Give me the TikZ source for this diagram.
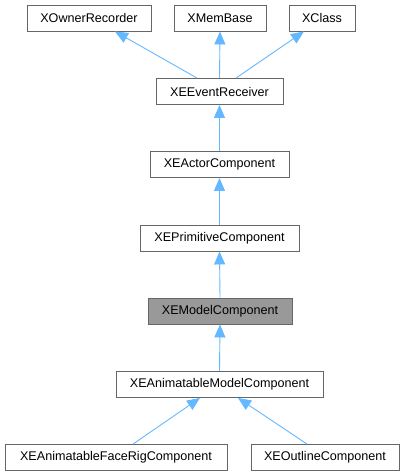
\documentclass[tikz,border=0pt]{standalone}
\usepackage{fontspec}
\setmainfont{Liberation Sans}
\usetikzlibrary{arrows.meta}
\definecolor{edgeblue}{HTML}{63B8FF}
\definecolor{boxgray}{HTML}{666666}
\definecolor{hlfill}{HTML}{999999}
\tikzset{
  cls/.style={draw=boxgray, line width=0.9pt, fill=white, inner sep=0pt, minimum height=26pt,
    font=\fontsize{12.6}{14}\selectfont, text=black},
  hl/.style={cls, fill=hlfill},
  edge/.style={draw=edgeblue, line width=0.9pt, -{Triangle[length=13pt,width=11pt,fill=edgeblue]}}
}
\begin{document}
\begin{tikzpicture}[x=1pt,y=-1pt]
\useasboundingbox (0,0) rectangle (405,476);
\node[cls, minimum width=124pt] (own) at (89,18) {XOwnerRecorder};
\node[cls, minimum width=92pt] (mem) at (220,18) {XMemBase};
\node[cls, minimum width=66pt] (xcls) at (322,18) {XClass};
\node[cls, minimum width=127pt] (evt) at (219.5,91.5) {XEEventReceiver};
\node[cls, minimum width=139pt] (act) at (219.5,164.5) {XEActorComponent};
\node[cls, minimum width=159pt] (prim) at (219.5,238) {XEPrimitiveComponent};
\node[hl, minimum width=144pt] (model) at (220,311) {XEModelComponent};
\node[cls, minimum width=207pt] (anim) at (219.5,384.5) {XEAnimatableModelComponent};
\node[cls, minimum width=222pt] (face) at (116,457.5) {XEAnimatableFaceRigComponent};
\node[cls, minimum width=148pt] (outl) at (325,457.5) {XEOutlineComponent};
\draw[edge] ([xshift=-22.5pt]evt.north) -- ([xshift=26pt]own.south);
\draw[edge] (evt.north) -- (mem.south);
\draw[edge] ([xshift=16.5pt]evt.north) -- ([xshift=-18pt]xcls.south);
\draw[edge] (act.north) -- (evt.south);
\draw[edge] (prim.north) -- (act.south);
\draw[edge] (model.north) -- (prim.south);
\draw[edge] (anim.north) -- (model.south);
\draw[edge] ([xshift=17pt]face.north) -- ([xshift=-19.5pt]anim.south);
\draw[edge] ([xshift=-18pt]outl.north) -- ([xshift=18.5pt]anim.south);
\end{tikzpicture}
\end{document}
